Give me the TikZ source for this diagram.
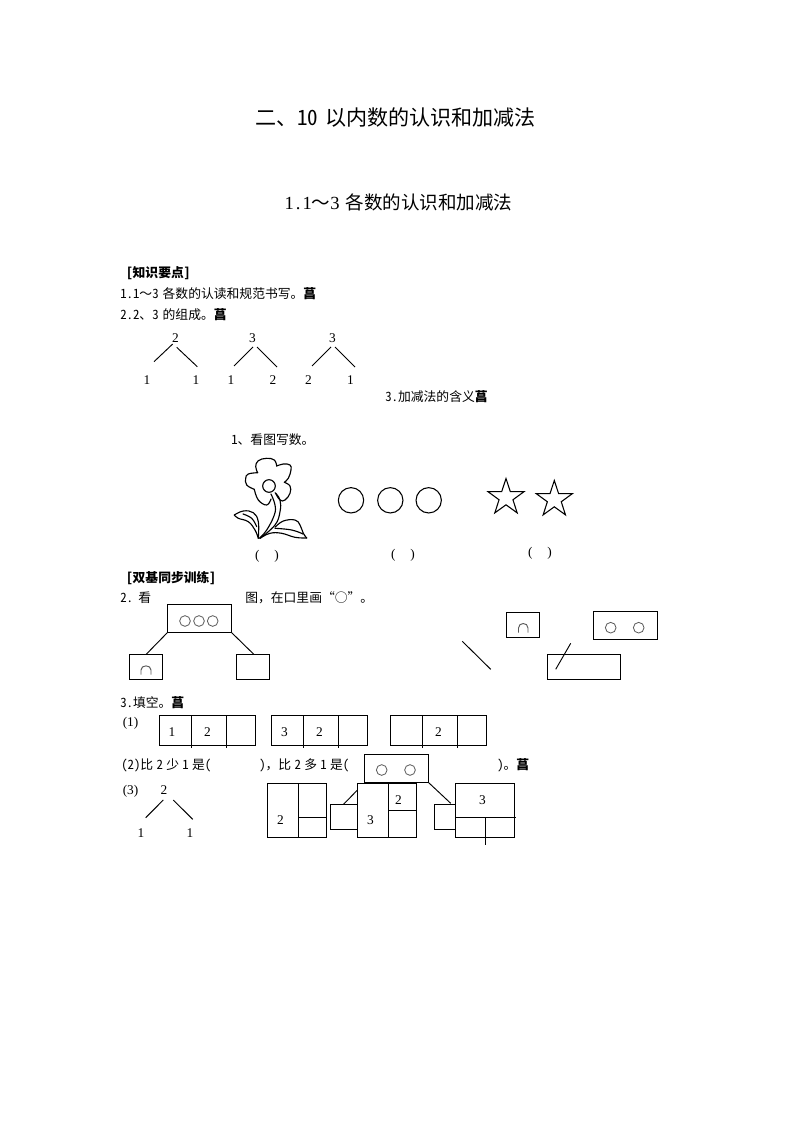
\documentclass[tikz,border=0pt]{standalone}
\usepackage{fontspec}
\setmainfont{Liberation Serif}
\newfontfamily\cjk{Noto Sans CJK SC}[RawFeature={+hwid}]
\newfontfamily\fw{Noto Sans CJK SC}
\usetikzlibrary{shapes.geometric}
\tikzset{
  lbl/.style={inner sep=0pt,anchor=west,font=\cjk\fontsize{9.6}{10}\selectfont},
  hd/.style={lbl,font=\cjk\bfseries\fontsize{9.6}{10}\selectfont},
  num/.style={inner sep=0pt,font=\fontsize{10}{10}\selectfont},
  bx/.style={draw=black,line width=0.75pt,fill=none,inner sep=0pt,outer sep=0pt,rectangle},
  ln/.style={draw=black,line width=0.7pt},
  sk/.style={draw=black,line width=0.85pt,line join=round,line cap=round},
  arch/.style={draw=black!65,line width=0.7pt},
  ci/.style={draw=black!65,line width=0.6pt,circle,inner sep=0pt,minimum size=8pt},
  bigci/.style={draw=black,line width=0.8pt,circle,inner sep=0pt,minimum size=19pt},
  st/.style={star,star points=5,star point ratio=2.6,draw=black,line width=0.8pt,minimum size=28.5pt,inner sep=0pt},
}
\newcommand{\gl}{{\bfseries 菖}}
\newcommand{\tl}{{\fw ～}}
\newcommand{\cm}{{\fw ，}}
\newcommand{\ts}{\hspace{2.5pt}}
\newcommand{\boxAt}[5]{\node[bx,anchor=north west,minimum width=#4*0.75pt,minimum height=#5*0.75pt] (#1) at (#2,#3) {};}
\newcommand{\smoothseg}[1]{\draw[sk] plot[smooth,tension=0.7] coordinates {#1};}
\begin{document}
\begin{tikzpicture}[x=0.75pt,y=-0.75pt]
\useasboundingbox (0,0) rectangle (794,1123);
\fill[white] (0,0) rectangle (794,1123);
% titles
\node[inner sep=0pt,font=\cjk\fontsize{15.8}{16}\selectfont] (t1) at (395.5,118) {二、10\hspace{5pt}以内数的认识和加减法};
\node[inner sep=0pt,font=\cjk\fontsize{13.9}{14}\selectfont] (t2) at (398.5,202) {{\rmfamily 1\kern1.5pt.\kern1.5pt 1}\tl{\rmfamily 3}\hspace{4.5pt}各数的认识和加减法};
% knowledge
\node[hd] (h1) at (126,273) {[知识要点]};
\node[lbl] (a1) at (120,293.5) {1.1\tl 3\hspace{3pt}各数的认读和规范书写。\gl};
\node[lbl] (a2) at (120,314.5) {2.2、3\hspace{3pt}的组成。\gl};
% number bonds
\node[num] (n1) at (175.5,338) {2};
\node[num] (n2) at (147,380) {1};
\node[num] (n3) at (196,380) {1};
\coordinate (p1a) at (172.7,344);\coordinate (p1b) at (154,361.7);
\coordinate (p1c) at (176.7,347.3);\coordinate (p1d) at (197.3,366.7);
\draw[ln] (p1a)--(p1b) (p1c)--(p1d);
\node[num] (n4) at (252.5,338) {3};
\node[num] (n5) at (231,380) {1};
\node[num] (n6) at (273,380) {2};
\coordinate (p2a) at (253,347);\coordinate (p2b) at (234,366);
\coordinate (p2c) at (257,347);\coordinate (p2d) at (277,367);
\draw[ln] (p2a)--(p2b) (p2c)--(p2d);
\node[num] (n7) at (332.5,338) {3};
\node[num] (n8) at (308.5,380) {2};
\node[num] (n9) at (350.5,380) {1};
\coordinate (p3a) at (331,347);\coordinate (p3b) at (312,366);
\coordinate (p3c) at (335,347);\coordinate (p3d) at (355,367);
\draw[ln] (p3a)--(p3b) (p3c)--(p3d);
\node[lbl] (a3) at (385,397) {3.加减法的含义\gl};
\node[lbl] (q1) at (231,440) {1、看图写数。};
% flower: petals
\smoothseg{(254.3,489.3) (258.3,500) (266.7,505) (271,499)}
\smoothseg{(254.3,489.3) (246.7,485) (245.7,478.3) (248.3,474) (257.7,472.7)}
\smoothseg{(257.7,472.7) (255.7,466.7) (258.3,460.7) (266.7,458.3) (274.3,460) (276.7,466)}
\smoothseg{(276.7,466) (283.3,464) (290,465) (291,470) (288.3,478.3) (284.3,482.3)}
\smoothseg{(284.3,482.3) (290,486) (290,493.3) (285,500) (280,500) (275.7,493.3)}
\draw[sk] (269,486) circle (6.3);
% flower: stem
\smoothseg{(275,492.7) (280,500) (280,511.7) (275,525) (260,538.3)}
\smoothseg{(271,494) (275,505) (274.3,515) (266.7,530) (259.3,538.3)}
% flower: leaves
\smoothseg{(258.3,538.3) (258.3,521.7) (253.3,512.7) (243.3,511) (234.3,515)}
\smoothseg{(234.3,515) (238.3,518.3) (248.3,521.7) (255,530) (258.3,538.3)}
\smoothseg{(243,514) (251.7,518.3) (256.7,526.7)}
\smoothseg{(275,527.3) (283.3,521) (295,520) (300,525) (303.3,533.3) (306.7,538)}
\smoothseg{(306.7,538) (295,537.3) (281.7,533.3) (270,533.3) (260,538.3)}
\smoothseg{(275,528.3) (291.7,530) (303,534)}
% circles
\node[bigci] (c1) at (351,500.3) {};
\node[bigci] (c2) at (390.3,500.3) {};
\node[bigci] (c3) at (428.7,500.3) {};
% stars
\node[st] (s1) at (506,497.5) {};
\node[st] (s2) at (554.3,499.5) {};
\node[num] (b1) at (267,556) {(\hspace{11pt})};
\node[num] (b2) at (403,555) {(\hspace{11pt})};
\node[num] (b3) at (540,553) {(\hspace{11pt})};
% section 2
\node[hd] (h2) at (126,578) {[双基同步训练]};
\node[lbl] (q2a) at (120,598) {2.\hspace{4pt}看};
\node[lbl] (q2b) at (245,598) {图\cm 在口里画“○”。};
\boxAt{top}{167.5}{604.5}{64}{28}
\node[ci] (o1) at (185,621) {};
\node[ci] (o2) at (199,621) {};
\node[ci] (o3) at (212.7,621) {};
\boxAt{bl}{129.5}{654.5}{33}{25}
\boxAt{br}{236.5}{654.5}{33}{25}
\coordinate (blt) at (146,654.5);
\coordinate (brt) at (254,654.5);
\draw[ln] (top.south west)--(blt);
\draw[ln] (top.south east)--(brt);
\draw[arch] (141,674.5)--(141,670) .. controls (141,664.5) and (151,664.5) .. (151,670)--(151,674.5);
\boxAt{r1}{506.5}{612.5}{33}{25}
\draw[arch] (518.5,632.5)--(518.5,628) .. controls (518.5,622) and (528,622) .. (528,628)--(528,632.5);
\boxAt{r2}{593.5}{611.5}{64}{28}
\node[ci] (o4) at (610.7,627.7) {};
\node[ci] (o5) at (638.7,627.7) {};
\boxAt{r3}{547.5}{654.5}{73}{25}
\coordinate (d1) at (462.3,641.3);\coordinate (d2) at (490.7,669.3);
\draw[ln] (d1)--(d2);
\coordinate (d3) at (570.7,643.3);\coordinate (d4) at (555.7,669.3);
\draw[ln] (d3)--(d4);
% section 3
\node[lbl] (q3) at (120,703) {3.填空。\gl};
\node[num,anchor=west] (l1) at (122.5,723) {(1)};
\boxAt{g1}{159.5}{715.5}{96}{30}
\draw[ln] (191.5,715.5)--(191.5,747.5) (226.5,715.5)--(226.5,747.5);
\node[num] (g1a) at (172,732) {1};
\node[num] (g1b) at (207.5,732) {2};
\boxAt{g2}{271.5}{715.5}{96}{30}
\draw[ln] (303.5,715.5)--(303.5,747.5) (338.5,715.5)--(338.5,747.5);
\node[num] (g2a) at (284.5,732) {3};
\node[num] (g2b) at (319.5,732) {2};
\boxAt{g3}{390.5}{715.5}{96}{30}
\draw[ln] (422.5,715.5)--(422.5,747.5) (457.5,715.5)--(457.5,747.5);
\node[num] (g3a) at (438.5,732) {2};
% line (2)
\node[lbl] (l2a) at (121,765.5) {(2)比\ts 2\ts 少\ts 1\ts 是(};
\node[lbl] (l2b) at (259,765.5) {)\cm 比\ts 2\ts 多\ts 1\ts 是(};
\node[lbl] (l2c) at (497,765.5) {)。\gl};
% (3)
\node[num,anchor=west] (l3) at (122.5,791) {(3)};
\node[num] (m1) at (164,790) {2};
\node[num] (m2) at (141,833) {1};
\node[num] (m3) at (190,833) {1};
\coordinate (q1a) at (163.3,800);\coordinate (q1b) at (145.7,817.7);
\coordinate (q1c) at (173.3,800);\coordinate (q1d) at (192.7,819.3);
\draw[ln] (q1a)--(q1b) (q1c)--(q1d);
% composites
\boxAt{k1}{267.5}{783.5}{59}{54}
\draw[ln] (298.5,783.5)--(298.5,837.5) (298.5,817.5)--(326.5,817.5);
\node[num] (k1a) at (280.5,820) {2};
\boxAt{k2}{357.5}{783.5}{59}{54}
\draw[ln] (388.5,783.5)--(388.5,837.5) (388.5,810.5)--(416.5,810.5);
\node[num] (k2a) at (370.5,820) {3};
\node[num] (k2b) at (398.5,800) {2};
\boxAt{k3}{455.5}{783.5}{59}{54}
\draw[ln] (455.5,817.5)--(516,817.5) (485,817.5)--(485,844.5);
\node[num] (k3a) at (482.5,800) {3};
\boxAt{sa}{330.5}{804.5}{27}{25}
\boxAt{sb}{434.5}{804.5}{21}{25}
\boxAt{over}{364.5}{754.5}{64}{28}
\node[ci] (o6) at (381.7,770) {};
\node[ci] (o7) at (410,770) {};
\coordinate (e1) at (343.3,804.5);\coordinate (e2) at (357.5,790);
\coordinate (e3) at (428.5,782.5);\coordinate (e4) at (450.7,803.3);
\draw[ln] (e1)--(e2);
\draw[ln] (e3)--(e4);
\end{tikzpicture}
\end{document}
